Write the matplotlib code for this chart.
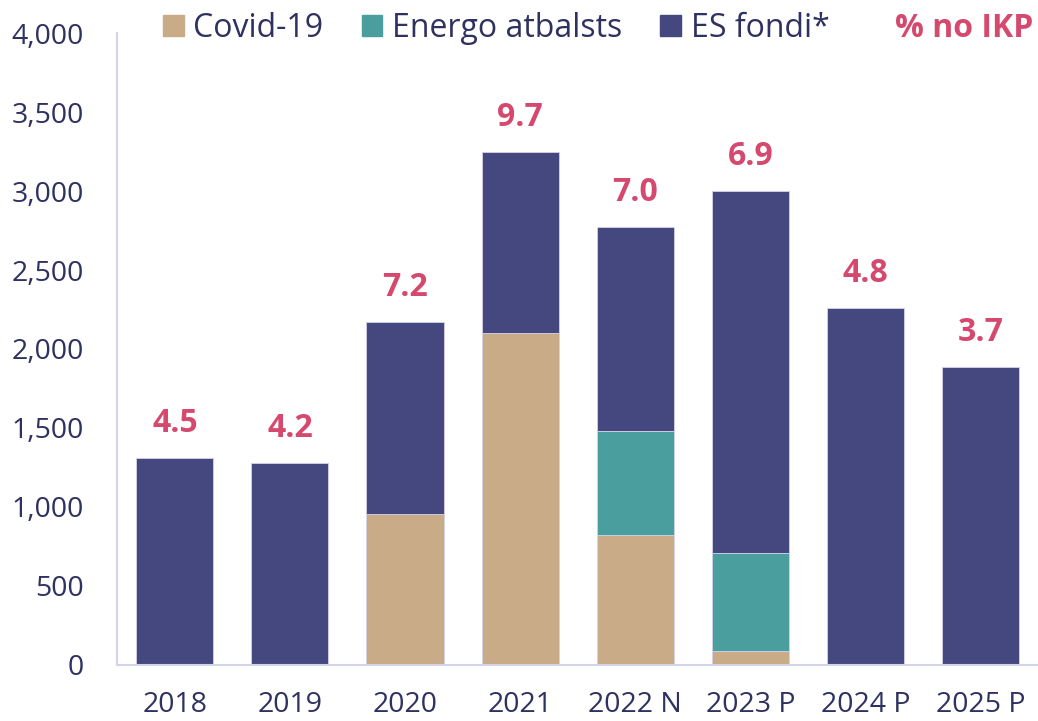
import matplotlib.pyplot as plt
import numpy as np
from matplotlib.patches import Patch
from matplotlib.ticker import FuncFormatter

# Dati
years = ['2018', '2019', '2020', '2021', '2022 N', '2023 P', '2024 P', '2025 P']
covid = [0, 0, 956, 2101, 823, 89, 0, 0]
energo = [0, 0, 0, 0, 658, 620, 0, 0]
es_fondi = [1310, 1278, 1215, 1146, 1291, 2291, 2259, 1886]
pct_ikp = ['4.5', '4.2', '7.2', '9.7', '7.0', '6.9', '4.8', '3.7']

c_covid = '#C9AB88'
c_energo = '#4A9E9E'
c_es = '#45477F'
c_pink = '#D6496F'
c_text = '#2F3160'
c_axis = '#D3D3EA'

plt.rcParams['font.family'] = ['Open Sans', 'DejaVu Sans']
fs = 20.5

fig = plt.figure(figsize=(10.38, 7.21), dpi=100)
ax = fig.add_axes([0.113, 0.078, 0.887, 0.876])

x = np.arange(len(years))
w = 0.67
covid_a = np.array(covid)
energo_a = np.array(energo)
es_a = np.array(es_fondi)

ax.bar(x, covid_a, w, color=c_covid, edgecolor=c_axis, linewidth=0.6)
ax.bar(x, energo_a, w, bottom=covid_a, color=c_energo, edgecolor=c_axis, linewidth=0.6)
ax.bar(x, es_a, w, bottom=covid_a + energo_a, color=c_es, edgecolor=c_axis, linewidth=0.6)

# % no IKP virs stabiņiem
totals = covid_a + energo_a + es_a
for xi, t, lab in zip(x, totals, pct_ikp):
    ax.annotate(lab, (xi, t), xytext=(0, 13), textcoords='offset points',
                ha='center', va='bottom', color=c_pink, fontsize=23, fontweight='bold')

ax.set_xlim(-0.5, len(years) - 0.5)
ax.set_ylim(0, 4000)
ax.set_yticks(np.arange(0, 4001, 500))
ax.yaxis.set_major_formatter(FuncFormatter(lambda v, p: f'{int(v):,}'))
ax.set_xticks(x)
ax.set_xticklabels(years)
ax.tick_params(axis='both', length=0, labelsize=fs, colors=c_text)
ax.tick_params(axis='y', pad=24)
ax.tick_params(axis='x', pad=19)

for s in ['top', 'right']:
    ax.spines[s].set_visible(False)
for s in ['left', 'bottom']:
    ax.spines[s].set_color(c_axis)
    ax.spines[s].set_linewidth(1.5)

handles = [Patch(color=c_covid, label='Covid-19'),
           Patch(color=c_energo, label='Energo atbalsts'),
           Patch(color=c_es, label='ES fondi*')]
fig.legend(handles=handles, loc='center', bbox_to_anchor=(0.478, 0.961), ncol=3,
           frameon=False, fontsize=23, handlelength=0.65, handleheight=0.65,
           handletextpad=0.3, columnspacing=1.2, labelcolor=c_text)

fig.text(0.996, 0.961, '% no IKP', ha='right', va='center', color=c_pink,
         fontsize=23, fontweight='bold')

fig.savefig('out.png', dpi=100)
